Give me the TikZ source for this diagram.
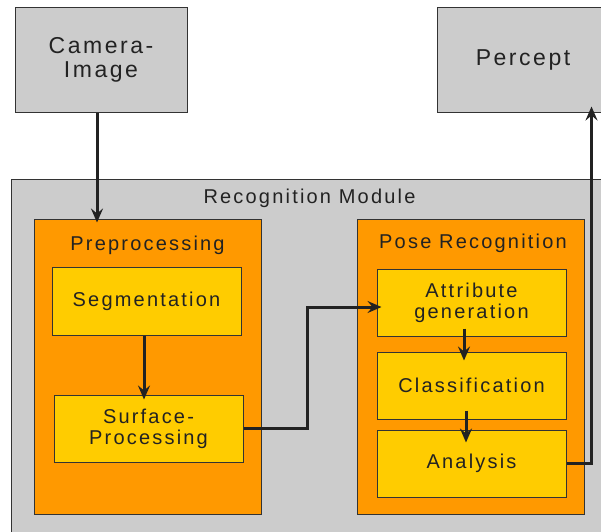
\documentclass[tikz,border=0pt]{standalone}
\usepackage{fontspec}
\setmainfont{Liberation Sans}[LetterSpace=11]
\usetikzlibrary{arrows.meta,calc}
\definecolor{boxgray}{HTML}{CCCCCC}
\definecolor{boxorange}{HTML}{FF9900}
\definecolor{boxyellow}{HTML}{FFCC00}
\definecolor{edge}{HTML}{333333}
\definecolor{txt}{HTML}{222222}
\begin{document}
\begin{tikzpicture}[x=1pt,y=-1pt,
  base/.style={draw=edge,line width=1pt,inner sep=0pt,text=txt,align=center},
  bigbox/.style={base,fill=boxgray,minimum width=172pt,minimum height=105pt,font=\fontsize{23}{24}\selectfont},
  modbox/.style={base,fill=boxgray},
  groupbox/.style={base,fill=boxorange,minimum width=227pt,minimum height=295pt},
  stepbox/.style={base,fill=boxyellow,minimum width=189pt,minimum height=67pt,font=\fontsize{20}{21}\selectfont},
  lbl/.style={inner sep=0pt,text=txt,anchor=base,font=\fontsize{20}{21}\selectfont},
  arr/.style={draw=txt,line width=3pt,-{Stealth[length=14pt,width=12pt,inset=5pt]}}]
\useasboundingbox (0,0) rectangle (601,531);
\fill[white] (0,0) rectangle (601,531);
% outer boxes
\node[bigbox] (camera) at (101,59.5) {Camera-\\Image};
\node[bigbox] (percept) at (523,59.5) {Percept};
\node[modbox,minimum width=620pt,minimum height=380pt] (module) at (321,369) {};
\node[lbl] (modlabel) at (309.5,203) {Recognition Module};
% groups
\node[groupbox] (preproc) at (147.5,366.5) {};
\node[lbl] (prelabel) at (147.5,250) {Preprocessing};
\node[groupbox] (pose) at (470.5,366.5) {};
\node[lbl] (poselabel) at (473,248) {Pose Recognition};
% steps
\node[stepbox,minimum height=68pt] (seg) at (146.5,301) {Segmentation};
\node[stepbox] (surf) at (148.5,428.5) {Surface-\\Processing};
\node[stepbox] (attr) at (471.5,302.5) {Attribute\\generation};
\node[stepbox] (class) at (471.5,385.5) {Classification};
\node[stepbox] (anal) at (471.5,463.5) {Analysis};
% connectors
\draw[arr] ([xshift=-4pt]camera.south) -- ([xshift=-4pt,yshift=-4pt]camera.south |- preproc.north);
\draw[arr] ([xshift=-2.5pt]seg.south) -- ([xshift=-2.5pt,yshift=-5pt]seg.south |- surf.north);
\draw[arr] (surf.east) -- ++(64,0) coordinate (sa) |- ([xshift=5pt,yshift=-4.5pt]attr.west);
\draw[arr] ([xshift=-7.5pt,yshift=8pt]attr.south) -- ([xshift=-7.5pt,yshift=-9pt]class.north);
\draw[arr] ([xshift=-5.5pt,yshift=9pt]class.south) -- ([xshift=-5.5pt,yshift=-13pt]anal.north);
\draw[arr] (anal.east) -- ++(25,0) coordinate (ap) -- ([yshift=6pt]ap |- percept.south);
\end{tikzpicture}
\end{document}
